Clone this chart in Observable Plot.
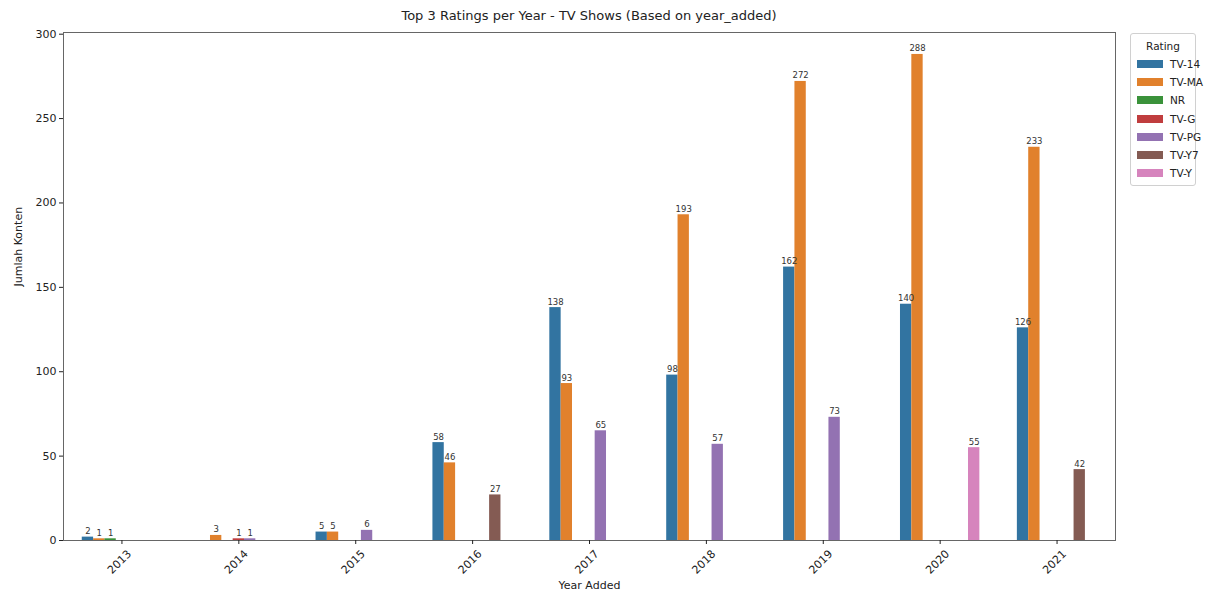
<!DOCTYPE html>
<html>
<head>
<meta charset="utf-8">
<script src="https://cdn.jsdelivr.net/npm/d3@7"></script>
<script src="https://cdn.jsdelivr.net/npm/@observablehq/plot@0.6"></script>
<style>
  html, body { margin: 0; padding: 0; background: #fff; }
  body { font-family: "DejaVu Sans", sans-serif; color: #222; }
  #wrap { position: relative; width: 1216px; height: 597px; overflow: hidden; }
  #title { height: 26px; box-sizing: border-box; padding-top: 6px; line-height: 20px; width: 1178px; text-align: center; font-size: 13px; }
  #legend { position: absolute; left: 1130px; top: 33px; width: 66px; height: 153px; border: 1px solid #d0d0d0; border-radius: 3px; box-sizing: border-box; font-size: 10.5px; background: #fff; }
  #legend .lt { position: absolute; left: 0; width: 100%; top: 6px; text-align: center; }
  #legend .row { position: absolute; left: 6px; height: 14px; line-height: 14px; white-space: nowrap; }
  #legend .sw { display: inline-block; width: 26px; height: 8px; vertical-align: middle; margin-right: 7px; position: relative; top: -1px; }
</style>
</head>
<body>
<div id="wrap">
  <div id="title"></div>
  <div id="chart"></div>
  <div id="legend"></div>
</div>
<script>
// ---- data ----
const years = [2013, 2014, 2015, 2016, 2017, 2018, 2019, 2020, 2021];
const ratings = ["TV-14", "TV-MA", "NR", "TV-G", "TV-PG", "TV-Y7", "TV-Y"];
const ratingColors = ["#3274a1", "#e1812c", "#3a923a", "#c03d3e", "#9372b2", "#845b53", "#d684bd"];
const tv14 = [2, null, 5, 58, 138, 98, 162, 140, 126];
const tvma = [1, 3, 5, 46, 93, 193, 272, 288, 233];
const nr   = [1, null, null, null, null, null, null, null, null];
const tvg  = [null, 1, null, null, null, null, null, null, null];
const tvpg = [null, 1, 6, null, 65, 57, 73, null, null];
const tvy7 = [null, null, null, 27, null, null, null, null, 42];
const tvy  = [null, null, null, null, null, null, null, 55, null];
const yTicks = [0, 50, 100, 150, 200, 250, 300];
const titleText = "Top 3 Ratings per Year - TV Shows (Based on year_added)";
const xLabel = "Year Added";
const yLabel = "Jumlah Konten";
const legendTitle = "Rating";

// ---- build table ----
const series = [tv14, tvma, nr, tvg, tvpg, tvy7, tvy];
const barW = 0.097; // fraction of a year slot per bar (dodge width)
const rows = [];
series.forEach((vals, ri) => {
  vals.forEach((v, yi) => {
    if (v == null) return;
    const x1 = years[yi] + (ri - ratings.length / 2) * barW;
    rows.push({year: years[yi], rating: ratings[ri], value: v, x1, x2: x1 + barW, xc: x1 + barW / 2});
  });
});

document.getElementById("title").textContent = titleText;

const chart = Plot.plot({
  width: 1216,
  height: 571,
  marginTop: 6,
  marginBottom: 57,
  marginLeft: 63,
  marginRight: 101,
  style: {fontFamily: "DejaVu Sans, sans-serif", fontSize: "11px", color: "#222", background: "#fff"},
  x: {type: "linear", domain: [2012.5, 2021.5]},
  y: {domain: [0, 301]},
  color: {domain: ratings, range: ratingColors},
  marks: [
    Plot.rectY(rows, {x1: "x1", x2: "x2", y1: 0, y2: "value", fill: "rating"}),
    Plot.text(rows, {x: "xc", y: "value", text: d => String(d.value), lineAnchor: "bottom", dy: -3, fontSize: 8.5, fill: "#333"}),
    Plot.frame({stroke: "#666", strokeWidth: 1}),
    Plot.axisY({ticks: yTicks, tickSize: 4, tickPadding: 3, label: null, fontSize: 11}),
    Plot.axisX({ticks: years, tickSize: 4, tickFormat: () => "", label: null}),
    Plot.text(years, {x: d => d, frameAnchor: "bottom", dy: 24, rotate: -45, textAnchor: "middle", text: d => String(d), fontSize: 11, fill: "#222"}),
    Plot.text([xLabel], {frameAnchor: "bottom", dy: 48, text: d => d, fontSize: 11, fill: "#222"}),
    Plot.text([yLabel], {frameAnchor: "left", dx: -45, rotate: -90, text: d => d, fontSize: 11, fill: "#222"})
  ]
});
document.getElementById("chart").appendChild(chart);

// legend
const leg = document.getElementById("legend");
const lt = document.createElement("div");
lt.className = "lt";
lt.textContent = legendTitle;
leg.appendChild(lt);
ratings.forEach((r, i) => {
  const row = document.createElement("div");
  row.className = "row";
  row.style.top = (23 + i * 18.2) + "px";
  const sw = document.createElement("span");
  sw.className = "sw";
  sw.style.background = ratingColors[i];
  row.appendChild(sw);
  row.appendChild(document.createTextNode(r));
  leg.appendChild(row);
});
</script>
</body>
</html>
